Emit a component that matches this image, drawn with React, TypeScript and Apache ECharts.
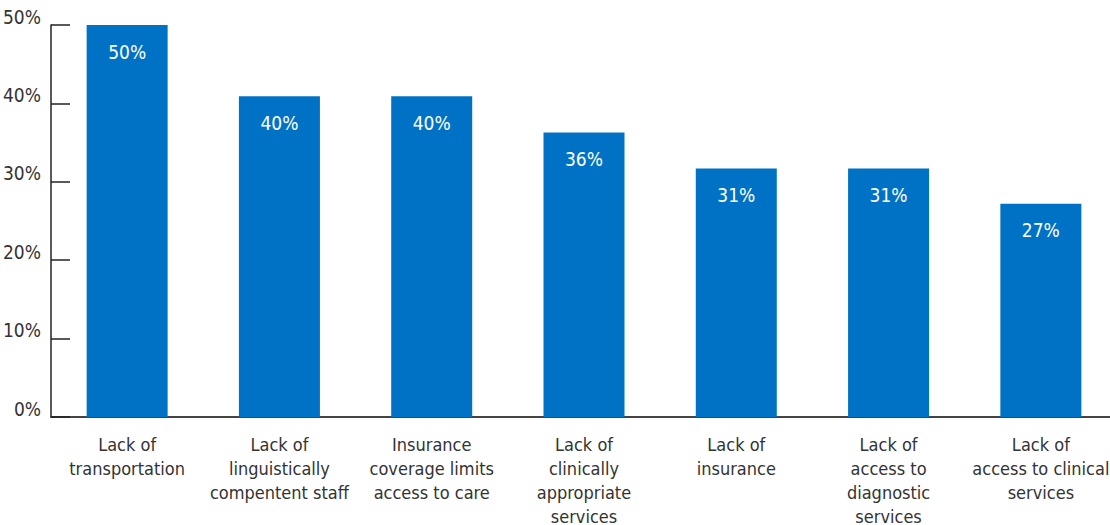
import React, { useEffect, useRef } from "react";
import * as echarts from "echarts";

const categories = [
  "Lack of\ntransportation",
  "Lack of\nlinguistically\ncompentent staff",
  "Insurance\ncoverage limits\naccess to care",
  "Lack of\nclinically\nappropriate\nservices",
  "Lack of\ninsurance",
  "Lack of\naccess to\ndiagnostic\nservices",
  "Lack of\naccess to clinical\nservices",
];
const values = [50, 40.9, 40.9, 36.3, 31.7, 31.7, 27.2];
const valueLabels = ["50%", "40%", "40%", "36%", "31%", "31%", "27%"];

const FONT = "'DejaVu Sans Condensed', 'Liberation Sans Narrow', 'Roboto', sans-serif";

export default function App() {
  const ref = useRef<HTMLDivElement>(null);
  useEffect(() => {
    if (!ref.current) return;
    const chart = echarts.init(ref.current, undefined, { renderer: "svg" });
    chart.setOption({
      animation: false,
      grid: {
        left: 51,
        width: 1066,
        top: 25,
        bottom: 108,
        containLabel: false,
        outerBoundsMode: "none",
      },
      xAxis: {
        type: "category",
        data: categories,
        axisLine: { show: true, lineStyle: { color: "#444", width: 2 } },
        axisTick: { show: false },
        axisLabel: {
          color: "#333",
          fontFamily: FONT,
          fontSize: 18,
          lineHeight: 24,
          margin: 15,
          interval: 0,
        },
      },
      yAxis: {
        type: "value",
        min: 0,
        max: 50,
        interval: 10,
        axisLine: { show: true, lineStyle: { color: "#222", width: 1.5 } },
        axisTick: { show: true, inside: true, length: 19, lineStyle: { color: "#222", width: 1.5 } },
        splitLine: { show: false },
        axisLabel: {
          color: "#333",
          fontFamily: FONT,
          fontSize: 19,
          margin: 10,
          verticalAlign: "bottom",
          padding: [0, 0, -1, 0],
          formatter: (v: number) => v + "%",
        },
      },
      series: [
        {
          type: "bar",
          data: values,
          barWidth: 81,
          itemStyle: { color: "#0072c6" },
          label: {
            show: true,
            position: "insideTop",
            distance: 17,
            color: "#fff",
            fontFamily: FONT,
            fontSize: 19,
            formatter: (p: any) => valueLabels[p.dataIndex],
          },
        },
      ],
    });
    return () => chart.dispose();
  }, []);
  return (
    <div
      ref={ref}
      style={{ position: "fixed", left: 0, top: 0, width: 1110, height: 525, background: "#fff" }}
    />
  );
}
